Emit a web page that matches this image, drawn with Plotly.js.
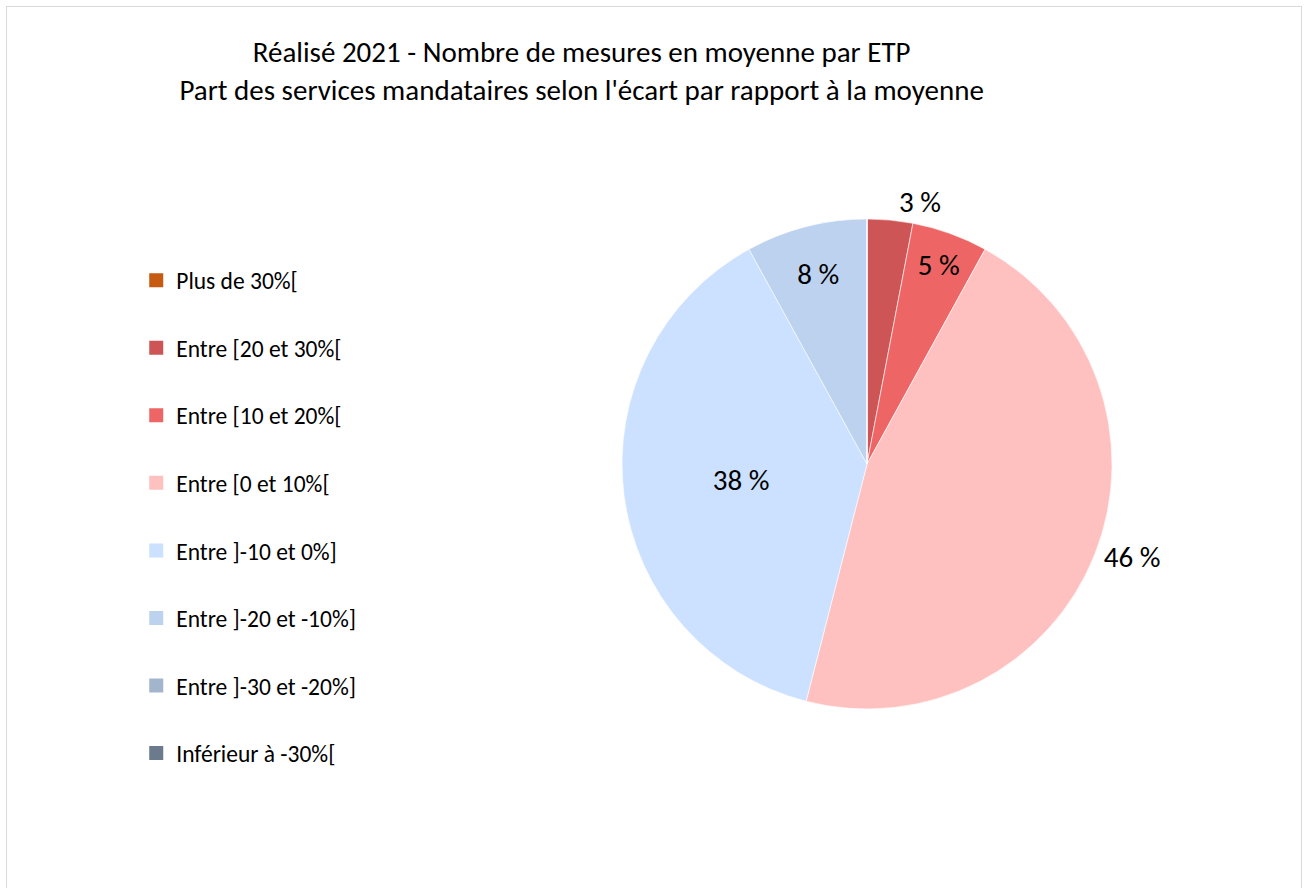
<!DOCTYPE html>
<html>
<head>
<meta charset="utf-8">
<script src="https://cdn.plot.ly/plotly-3.0.1.min.js"></script>
<style>
  html, body { margin: 0; padding: 0; background: #fff; overflow: hidden; }
  #frame { position: absolute; left: 6px; top: 6px; width: 1296px; height: 900px; border: 1.5px solid #d9d9d9; box-sizing: border-box; }
  #chart { position: absolute; left: 0; top: 0; width: 1310px; height: 888px; }
</style>
</head>
<body>
<div id="frame"></div>
<div id="chart"></div>
<script>
const categories = [
  "Plus de 30%[",
  "Entre [20 et 30%[",
  "Entre [10 et 20%[",
  "Entre [0 et 10%[",
  "Entre ]-10 et 0%]",
  "Entre ]-20 et -10%]",
  "Entre ]-30 et -20%]",
  "Inférieur à -30%["
];
const shares = [0, 3, 5, 46, 38, 8, 0, 0];
const colors = ["#C55A11", "#CD5555", "#EE6565", "#FFC0C0", "#CCE0FF", "#BCD2EE", "#A3B5CD", "#6B7A8C"];
const labelPositions = ["none", "outside", "inside", "outside", "inside", "inside", "none", "none"];

const FONT = "Carlito, 'Liberation Sans Narrow', 'DejaVu Sans Condensed', 'Open Sans', sans-serif";

const pie = {
  type: "pie",
  labels: categories,
  values: shares,
  sort: false,
  direction: "clockwise",
  rotation: 0,
  marker: { colors: colors, line: { color: "#ffffff", width: 0.6 } },
  text: shares.map(v => v + " %"),
  textinfo: "text",
  textposition: labelPositions,
  insidetextorientation: "horizontal",
  textfont: { family: FONT, size: 29, color: "#000" },
  showlegend: false,
  hoverinfo: "label+percent",
  domain: { x: [0.4748, 0.8489], y: [0.2016, 0.7534] }
};

const legendTraces = categories.map((c, i) => ({
  type: "scatter",
  mode: "markers",
  x: [null], y: [null],
  name: c,
  legendgroup: "g" + i,
  marker: { symbol: "square", size: 14, color: colors[i] },
  showlegend: true,
  hoverinfo: "skip"
}));

const layout = {
  width: 1310, height: 888,
  margin: { l: 0, r: 0, t: 0, b: 0 },
  paper_bgcolor: "rgba(0,0,0,0)",
  plot_bgcolor: "rgba(0,0,0,0)",
  title: {
    text: "Réalisé 2021 - Nombre de mesures en moyenne par ETP<br>Part des services mandataires selon l'écart par rapport à la moyenne",
    font: { family: FONT, size: 29, color: "#000" },
    x: 0.444, xanchor: "center",
    y: 0.93, yanchor: "top"
  },
  xaxis: { visible: false },
  yaxis: { visible: false },
  showlegend: true,
  legend: {
    x: 0.104, xanchor: "left",
    y: 0.709, yanchor: "top",
    traceorder: "grouped",
    tracegroupgap: 34,
    font: { family: FONT, size: 23.5, color: "#000" },
    bgcolor: "rgba(0,0,0,0)"
  }
};

Plotly.newPlot("chart", [pie].concat(legendTraces), layout, { displayModeBar: false });
</script>
</body>
</html>
